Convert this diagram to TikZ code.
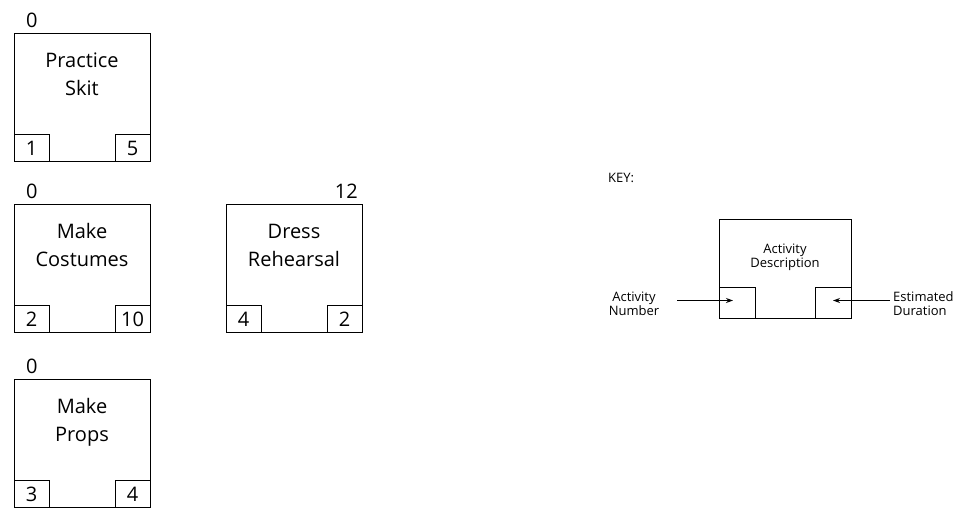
\documentclass[tikz,border=0pt]{standalone}
\usepackage{fontspec}
\setmainfont{Open Sans}
\usetikzlibrary{arrows.meta,positioning}

\begin{document}
\begin{tikzpicture}[
  x=1pt, y=-1pt,
  activity/.style={rectangle, draw, line width=1pt, outer sep=0pt, inner sep=0pt, minimum width=136pt, minimum height=128pt},
  numbox/.style={rectangle, draw, line width=1pt, outer sep=0pt, inner sep=0pt, minimum width=35pt, minimum height=27pt, font=\fontsize{20}{24}\selectfont},
  desc/.style={align=center, inner sep=0pt, font=\fontsize{20}{28}\selectfont},
  early/.style={inner sep=0pt, font=\fontsize{20}{24}\selectfont},
  keybox/.style={rectangle, draw, line width=0.9pt, outer sep=0pt, inner sep=0pt, minimum width=132pt, minimum height=99pt},
  keysmall/.style={rectangle, draw, line width=0.9pt, outer sep=0pt, inner sep=0pt, minimum width=36pt, minimum height=31pt},
  keytext/.style={inner sep=0pt, font=\fontsize{13}{14}\selectfont},
  arrow/.style={-{Stealth[length=7pt,width=5pt]}, line width=0.9pt}
]
  \useasboundingbox (0,0) rectangle (966,512);

  % Activities
  \node[activity] (practice) at (82,97.5) {};
  \node[activity, below=43pt of practice] (costumes) {};
  \node[activity, below=47pt of costumes] (props) {};
  \node[activity, right=76pt of costumes] (rehearsal) {};

  % Descriptions (base = last line)
  \node[desc, anchor=base] (practice-desc) at ([yshift=-62pt]practice.north) {Practice\\Skit};
  \node[desc, anchor=base] (costumes-desc) at ([yshift=-62pt]costumes.north) {Make\\Costumes};
  \node[desc, anchor=base] (props-desc) at ([yshift=-62pt]props.north) {Make\\Props};
  \node[desc, anchor=base] (rehearsal-desc) at ([yshift=-62pt]rehearsal.north) {Dress\\Rehearsal};

  % Activity numbers and durations
  \node[numbox, anchor=south west] (practice-num) at (practice.south west) {1};
  \node[numbox, anchor=south east] (practice-dur) at (practice.south east) {5};
  \node[numbox, anchor=south west] (costumes-num) at (costumes.south west) {2};
  \node[numbox, anchor=south east] (costumes-dur) at (costumes.south east) {10};
  \node[numbox, anchor=south west] (props-num) at (props.south west) {3};
  \node[numbox, anchor=south east] (props-dur) at (props.south east) {4};
  \node[numbox, anchor=south west] (rehearsal-num) at (rehearsal.south west) {4};
  \node[numbox, anchor=south east] (rehearsal-dur) at (rehearsal.south east) {2};

  % Start times
  \node[early, anchor=base west] (practice-start) at ([xshift=12pt, yshift=6pt]practice.north west) {0};
  \node[early, anchor=base west] (costumes-start) at ([xshift=12pt, yshift=6pt]costumes.north west) {0};
  \node[early, anchor=base west] (props-start) at ([xshift=12pt, yshift=6pt]props.north west) {0};
  \node[early, anchor=base east] (rehearsal-start) at ([xshift=-4pt, yshift=6pt]rehearsal.north east) {12};

  % Key
  \node[keytext, anchor=base west] (keylabel) at (608,182) {KEY:};
  \node[keybox] (key) at (785,268.5) {};
  \node[keytext, align=center, anchor=base] (key-desc) at ([yshift=-48pt]key.north) {Activity\\Description};
  \node[keysmall, anchor=south west] (key-num) at (key.south west) {};
  \node[keysmall, anchor=south east] (key-dur) at (key.south east) {};
  \node[keytext, align=center, anchor=base] (actnum) at (634,315) {Activity\\Number};
  \node[keytext, align=left, anchor=base west] (estdur) at (893,315) {Estimated\\Duration};
  \coordinate (numtail) at (677,300.5);
  \coordinate (durtail) at (890,300.5);
  \draw[arrow, shorten >=4pt] (numtail) -- (numtail -| key-num.center);
  \draw[arrow] (durtail) -- (durtail -| key-dur.center);
\end{tikzpicture}
\end{document}
